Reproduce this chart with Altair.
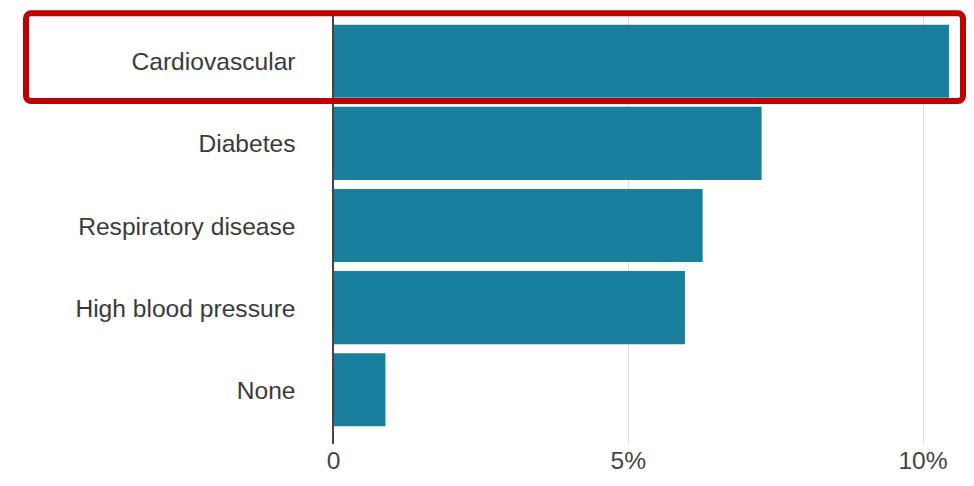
import altair as alt
import pandas as pd

categories = ["Cardiovascular", "Diabetes", "Respiratory disease", "High blood pressure", "None"]
values = [10.45, 7.27, 6.27, 5.97, 0.89]
tick_values = [0, 5, 10]
highlight = ["Cardiovascular"]

df = pd.DataFrame({"condition": categories, "pct": values})
hl = pd.DataFrame({"condition": highlight})

W, H = 619, 423

y_enc = alt.Y("condition:N", sort=categories,
              scale=alt.Scale(paddingInner=0.11, paddingOuter=0.13),
              axis=alt.Axis(title=None, ticks=False, domain=False, labelPadding=38,
                            labelOffset=2,
                            labelFont="Liberation Sans", labelFontSize=24.6,
                            labelColor="#3a3a3a", labelLimit=400))

bars = alt.Chart(df).mark_bar(color="#1a7f9d").encode(
    x=alt.X("pct:Q", scale=alt.Scale(domain=[0, 10.5], nice=False),
            axis=alt.Axis(title=None, values=tick_values, grid=True, gridColor="#dddddd",
                          domain=False, tickColor="#dddddd", tickSize=7, labelPadding=5,
                          labelFlush=False,
                          labelFont="Liberation Sans", labelFontSize=24.6, labelColor="#444444",
                          labelExpr="datum.value == 0 ? '0' : datum.value + '%'")),
    y=y_enc,
)

zero = alt.Chart(pd.DataFrame({"v": [0]})).mark_rule(color="#444444", strokeWidth=2).encode(
    x="v:Q", y=alt.value(0), y2=alt.value(H + 7)
)

frame = alt.Chart(hl).mark_bar(
    fill="transparent", stroke="#c00000", strokeWidth=6, cornerRadius=5,
    height={"band": 1.2}, yOffset=-4, clip=False
).encode(
    y=alt.Y("condition:N", sort=categories),
    x=alt.value(-307), x2=alt.value(630),
)

chart = alt.layer(bars, zero, frame).properties(
    width=W, height=H,
    background="white",
    autosize=alt.AutoSizeParams(type="none"),
    padding={"left": 325, "top": 6, "right": 14, "bottom": 50},
).configure_view(stroke="transparent", strokeWidth=0)

chart.save("out.html", embed_options={"renderer": "svg", "actions": False})
